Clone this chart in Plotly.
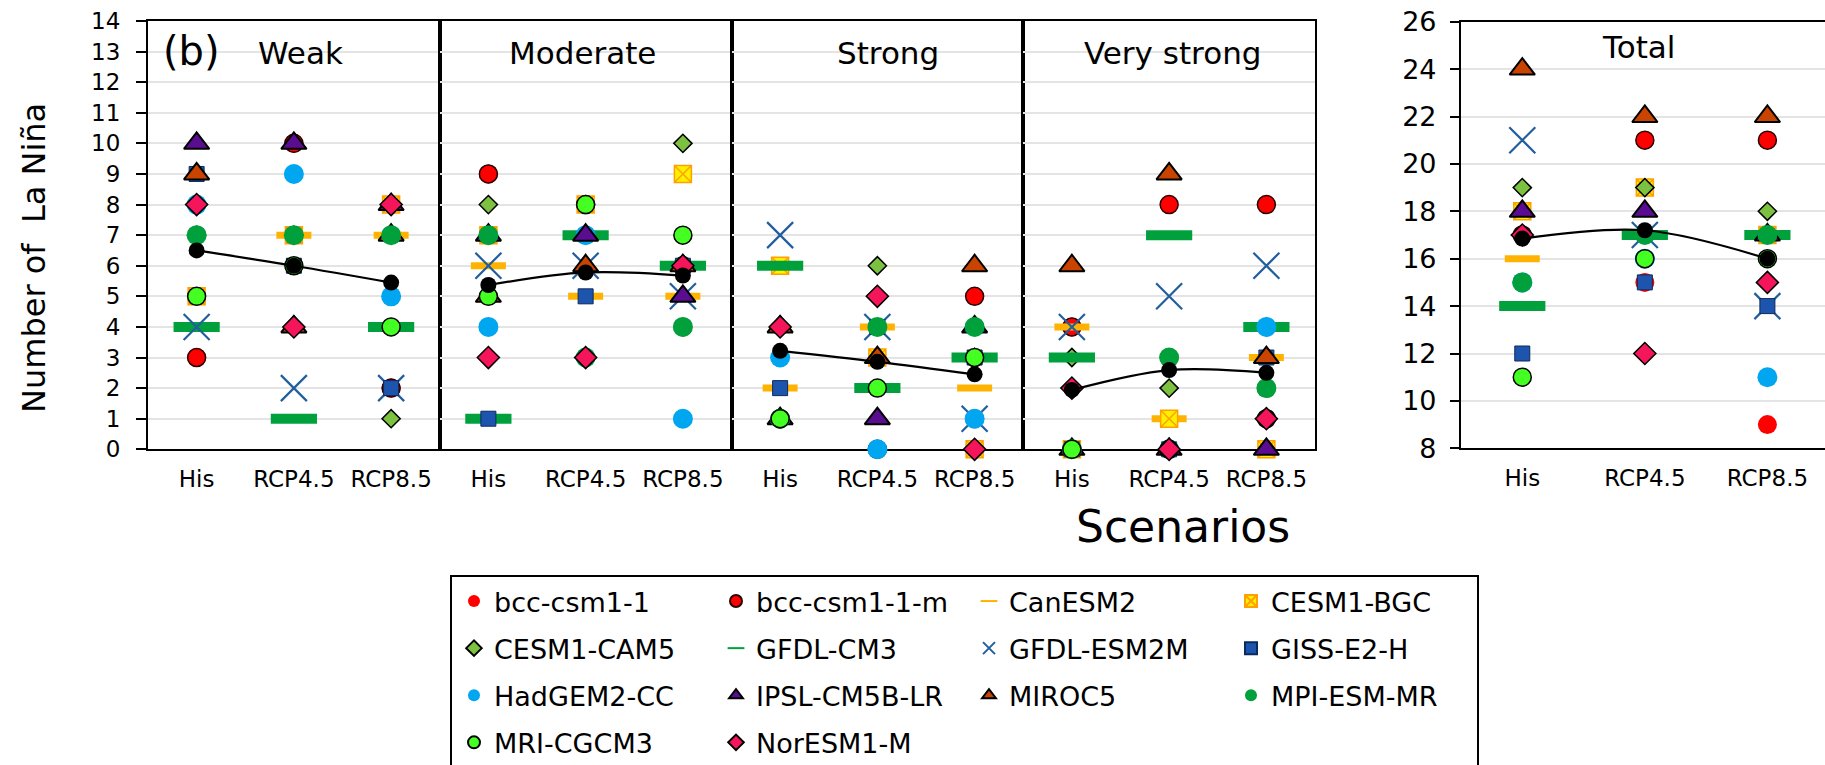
import plotly.graph_objects as go

# ---------------- data ----------------
MODELS = ["bcc-csm1-1", "bcc-csm1-1-m", "CanESM2", "CESM1-BGC", "CESM1-CAM5", "GFDL-CM3",
          "GFDL-ESM2M", "GISS-E2-H", "HadGEM2-CC", "IPSL-CM5B-LR", "MIROC5", "MPI-ESM-MR",
          "MRI-CGCM3", "NorESM1-M"]
SCENARIOS = ["His", "RCP4.5", "RCP8.5"]
PANELS = ["Weak", "Moderate", "Strong", "Very strong"]

# values in model order (same order as MODELS)
WEAK_HIS = [3, 3, 4, 5, 7, 4, 4, 9, 8, 10, 9, 7, 5, 8]
WEAK_RCP45 = [10, 10, 7, 7, 7, 1, 2, 6, 9, 10, 4, 7, 6, 4]
WEAK_RCP85 = [2, 2, 7, 8, 1, 4, 2, 2, 5, 8, 7, 7, 4, 8]
MOD_HIS = [9, 9, 6, 7, 8, 1, 6, 1, 4, 7, 5, 7, 5, 3]
MOD_RCP45 = [8, 8, 5, 8, 3, 7, 6, 5, 7, 7, 6, 3, 8, 3]
MOD_RCP85 = [4, 6, 5, 9, 10, 6, 5, 6, 1, 5, 6, 4, 7, 6]
STR_HIS = [1, 1, 2, 6, 1, 6, 7, 2, 3, 1, 4, 1, 1, 4]
STR_RCP45 = [0, 0, 4, 3, 6, 2, 4, 4, 0, 1, 3, 4, 2, 5]
STR_RCP85 = [1, 5, 2, 0, 3, 3, 1, 3, 1, 4, 6, 4, 3, 0]
VS_HIS = [4, 4, 4, 0, 3, 3, 4, 0, 0, 0, 6, 0, 0, 2]
VS_RCP45 = [3, 8, 1, 1, 2, 7, 5, 0, 0, 0, 9, 3, 0, 0]
VS_RCP85 = [2, 8, 3, 0, 4, 4, 6, 3, 4, 0, 3, 2, 1, 1]
TOT_HIS = [17, 17, 16, 18, 19, 14, 21, 12, 15, 18, 24, 15, 11, 17]
TOT_RCP45 = [15, 21, 17, 19, 19, 17, 17, 15, 16, 18, 22, 17, 16, 12]
TOT_RCP85 = [9, 21, 17, 17, 18, 17, 14, 14, 11, 17, 22, 17, 16, 15]

MEAN_WEAK = [6.5, 6.0, 5.45]
MEAN_MOD = [5.37, 5.78, 5.68]
MEAN_STR = [3.22, 2.86, 2.45]
MEAN_VS = [1.94, 2.59, 2.5]
MEAN_TOT = [16.85, 17.2, 16.0]

PANEL_DATA = [
    [WEAK_HIS, WEAK_RCP45, WEAK_RCP85],
    [MOD_HIS, MOD_RCP45, MOD_RCP85],
    [STR_HIS, STR_RCP45, STR_RCP85],
    [VS_HIS, VS_RCP45, VS_RCP85],
]
PANEL_MEANS = [MEAN_WEAK, MEAN_MOD, MEAN_STR, MEAN_VS]
TOTAL_DATA = [TOT_HIS, TOT_RCP45, TOT_RCP85]

# ---------------- styles ----------------
STYLES = {
    "bcc-csm1-1": dict(symbol="circle", size=19, color="#FF0000", line=dict(width=0)),
    "bcc-csm1-1-m": dict(symbol="circle", size=18, color="#FF0000", line=dict(color="#2A0000", width=1.5)),
    "CanESM2": dict(symbol="line-ew", size=25, color="#FFB300", line=dict(color="#FFB300", width=7)),
    "CESM1-BGC": dict(symbol="square-x", size=17, color="#FFF000", line=dict(color="#FFA000", width=1.5)),
    "CESM1-CAM5": dict(symbol="diamond", size=14, color="#7CC240", line=dict(color="#000000", width=1.5)),
    "GFDL-CM3": dict(symbol="line-ew", size=33, color="#00A03C", line=dict(color="#00A03C", width=10)),
    "GFDL-ESM2M": dict(symbol="x-thin", size=26, color="#215E9E", line=dict(color="#215E9E", width=2.2)),
    "GISS-E2-H": dict(symbol="square", size=15, color="#1D55AE", line=dict(color="#0B2A5C", width=1)),
    "HadGEM2-CC": dict(symbol="circle", size=20, color="#00A6F0", line=dict(width=0)),
    "IPSL-CM5B-LR": dict(symbol="triangle-up", size=22, color="#5A0D90", line=dict(color="#000000", width=2)),
    "MIROC5": dict(symbol="triangle-up", size=22, color="#C84400", line=dict(color="#000000", width=2)),
    "MPI-ESM-MR": dict(symbol="circle", size=20, color="#00A03C", line=dict(width=0)),
    "MRI-CGCM3": dict(symbol="circle", size=18, color="#44FF22", line=dict(color="#000000", width=1.5)),
    "NorESM1-M": dict(symbol="diamond", size=17, color="#F5155A", line=dict(color="#000000", width=1.5)),
}
MEAN_MARKER = dict(symbol="circle", size=16, color="#000000")
MEAN_LINE = dict(color="#000000", width=2.2, shape="spline", smoothing=1.0)

FONT = "DejaVu Sans"
W, H = 1825, 765


def px_x(v):
    return v / W


def px_y(v):
    return 1 - v / H


LEGEND_KEYS = ["legend", "legend2", "legend3", "legend4"]

fig = go.Figure()

# four intensity panels
for p in range(len(PANELS)):
    suf = "" if p == 0 else str(p + 1)
    for m, model in enumerate(MODELS):
        yvals = [PANEL_DATA[p][s][m] for s in range(len(SCENARIOS))]
        fig.add_trace(go.Scatter(
            x=SCENARIOS, y=yvals, mode="markers", name=model,
            marker=STYLES[model], legendgroup=model, showlegend=(p == 0),
            legend=LEGEND_KEYS[m % 4], xaxis="x" + suf, yaxis="y" + suf,
            cliponaxis=False, hoverinfo="x+y+name"))
    fig.add_trace(go.Scatter(
        x=SCENARIOS, y=PANEL_MEANS[p], mode="lines+markers", name="Mean",
        marker=MEAN_MARKER, line=MEAN_LINE, showlegend=False,
        xaxis="x" + suf, yaxis="y" + suf, cliponaxis=False))

# total panel
for m, model in enumerate(MODELS):
    yvals = [TOTAL_DATA[s][m] for s in range(len(SCENARIOS))]
    fig.add_trace(go.Scatter(
        x=SCENARIOS, y=yvals, mode="markers", name=model,
        marker=STYLES[model], legendgroup=model, showlegend=False,
        xaxis="x5", yaxis="y5", cliponaxis=False))
fig.add_trace(go.Scatter(
    x=SCENARIOS, y=MEAN_TOT, mode="lines+markers", name="Mean",
    marker=MEAN_MARKER, line=MEAN_LINE, showlegend=False,
    xaxis="x5", yaxis="y5", cliponaxis=False))

# ---------------- layout ----------------
PLOT_LEFT, PLOT_RIGHT = 148, 1315
PLOT_TOP, PLOT_BOTTOM = 21, 449.3
TOTAL_LEFT = 1461
panel_w = (PLOT_RIGHT - PLOT_LEFT) / 4
ydom = [px_y(PLOT_BOTTOM), px_y(PLOT_TOP)]

tickfont = dict(family=FONT, size=23, color="#000000")
layout = dict(
    template="none",
    width=W, height=H, autosize=False,
    margin=dict(l=0, r=0, t=0, b=0, pad=0, autoexpand=False),
    paper_bgcolor="white", plot_bgcolor="white",
    font=dict(family=FONT, color="#000000"),
    showlegend=True,
)

for p in range(4):
    suf = "" if p == 0 else str(p + 1)
    x0 = PLOT_LEFT + p * panel_w
    layout["xaxis" + suf] = dict(
        domain=[px_x(x0), px_x(x0 + panel_w)], anchor="y" + suf, automargin=False,
        type="category", categoryorder="array", categoryarray=SCENARIOS,
        range=[-0.5, 2.5], showgrid=False, zeroline=False,
        showline=True, linecolor="#000000", linewidth=2.2, mirror=True,
        ticks="", tickfont=tickfont, ticklabelstandoff=8, layer="below traces")
    ydict = dict(
        domain=ydom, anchor="x" + suf, range=[0, 14], dtick=1, automargin=False,
        showgrid=True, gridcolor="#E4E4E4", gridwidth=2, zeroline=False,
        showline=True, linecolor="#000000", linewidth=2.2, mirror=True,
        layer="below traces")
    if p == 0:
        ydict.update(ticks="outside", ticklen=10, tickwidth=2, tickcolor="#000000",
                     tickfont=tickfont, ticklabelstandoff=11)
    else:
        ydict.update(matches="y", showticklabels=False, ticks="")
    layout["yaxis" + suf] = ydict

layout["xaxis5"] = dict(
    domain=[px_x(TOTAL_LEFT), 1.0], anchor="y5", automargin=False,
    type="category", categoryorder="array", categoryarray=SCENARIOS,
    range=[-0.5, 2.47], showgrid=False, zeroline=False,
    showline=True, linecolor="#000000", linewidth=2.2, mirror=True,
    ticks="", tickfont=tickfont, ticklabelstandoff=8, layer="below traces")
layout["yaxis5"] = dict(
    domain=[px_y(448.3), px_y(21.7)], anchor="x5", range=[8, 26], dtick=2, automargin=False,
    showgrid=True, gridcolor="#E4E4E4", gridwidth=2, zeroline=False,
    showline=True, linecolor="#000000", linewidth=2.2, mirror=True,
    ticks="outside", ticklen=9, tickwidth=2, tickcolor="#000000",
    tickfont=dict(family=FONT, size=27, color="#000000"), ticklabelstandoff=8,
    layer="below traces")

# legends: four columns
LEG_TEXT_X = [496, 758, 1011, 1273]
for i, key in enumerate(LEGEND_KEYS):
    layout[key] = dict(
        x=px_x(LEG_TEXT_X[i] - 42), y=px_y(577), xanchor="left", yanchor="top",
        xref="container", yref="container",
        orientation="v", bgcolor="rgba(0,0,0,0)", borderwidth=0,
        font=dict(family=FONT, size=27, color="#000000"),
        itemsizing="constant", tracegroupgap=9, itemwidth=30,
        itemclick=False, itemdoubleclick=False)

fig.update_layout(**layout)

# legend frame
fig.add_shape(type="rect", xref="paper", yref="paper",
              x0=px_x(451), x1=px_x(1478), y0=px_y(775), y1=px_y(576),
              line=dict(color="#000000", width=2), fillcolor="rgba(0,0,0,0)", layer="below")

# annotations (titles)
ann = []
ann.append(dict(text="(b)", x=px_x(191), y=px_y(51), font=dict(size=40)))
TITLE_X = [300, 582, 888, 1172]
for t, xx in zip(PANELS, TITLE_X):
    ann.append(dict(text=t, x=px_x(xx), y=px_y(53), font=dict(size=31)))
ann.append(dict(text="Total", x=px_x(1638), y=px_y(47), font=dict(size=31)))
ann.append(dict(text="Scenarios", x=px_x(1183), y=px_y(526), font=dict(size=44)))
ann.append(dict(text="Number of  La Niña", x=px_x(34), y=px_y(258), textangle=-90,
                font=dict(size=32)))
for a in ann:
    a.update(xref="paper", yref="paper", showarrow=False, xanchor="center", yanchor="middle")
    a["font"].update(family=FONT, color="#000000")
fig.update_layout(annotations=ann)

fig.write_html("out.html", include_plotlyjs=True, config={"displayModeBar": False},
               post_script="document.body.style.margin='0';document.body.style.overflow='hidden';")
